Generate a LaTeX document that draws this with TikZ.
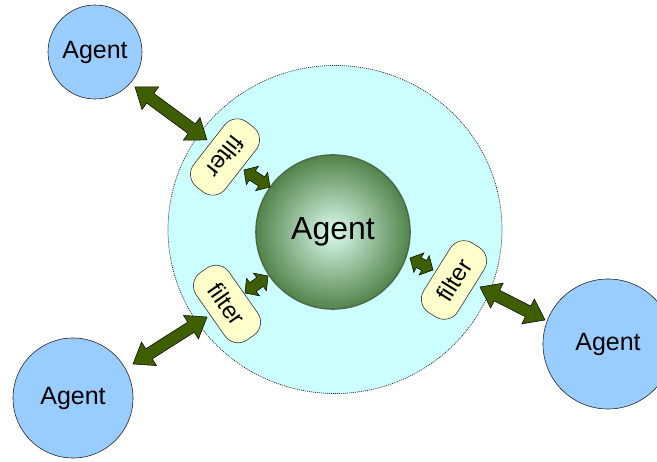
\documentclass[tikz,border=0pt]{standalone}
\usepackage{fontspec}
\setmainfont{Liberation Sans}
\usetikzlibrary{calc,shapes.geometric}
\definecolor{envcyan}{HTML}{CCFFFF}
\definecolor{agentblue}{HTML}{99CCFF}
\definecolor{filteryellow}{HTML}{FFFFCC}
\definecolor{arrowgreen}{RGB}{62,94,0}
\definecolor{coreinner}{HTML}{DDFBEF}
\definecolor{coreouter}{HTML}{52844A}
\definecolor{coreborder}{HTML}{4F6B4A}
\tikzset{
  envnode/.style={ellipse, draw=black!85, line width=0.7pt, dash pattern=on 1pt off 1pt, fill=envcyan, minimum width=334pt, minimum height=328pt, inner sep=0pt},
  agentnode/.style={circle, draw=black!85, line width=0.6pt, fill=agentblue, inner sep=0pt, font=\fontsize{25}{30}\selectfont},
  corenode/.style={circle, draw=coreborder, line width=1.6pt, inner color=coreinner, outer color=coreouter, minimum size=154pt, inner sep=0pt, font=\fontsize{32}{38}\selectfont},
  filternode/.style={rectangle, rounded corners=16pt, draw=black!80, line width=0.6pt, fill=filteryellow, minimum width=82pt, minimum height=40pt, inner sep=0pt, font=\fontsize{24}{28}\selectfont},
  arrowshape/.style={fill=arrowgreen, draw=black, line width=0.5pt, line join=miter}
}
% double-headed block arrow between two named points
\newcommand\blockarrow[5]{%
  \draw[arrowshape] let \p1=(#1), \p2=(#2), \n1={atan2(\y2-\y1,\x2-\x1)} in
    (\p1)
    -- ($(\p1)+({\n1}:#3)+({\n1+90}:#4)$)
    -- ($(\p1)+({\n1}:#3)+({\n1+90}:#5)$)
    -- ($(\p2)+({\n1+180}:#3)+({\n1+90}:#5)$)
    -- ($(\p2)+({\n1+180}:#3)+({\n1+90}:#4)$)
    -- (\p2)
    -- ($(\p2)+({\n1+180}:#3)+({\n1-90}:#4)$)
    -- ($(\p2)+({\n1+180}:#3)+({\n1-90}:#5)$)
    -- ($(\p1)+({\n1}:#3)+({\n1-90}:#5)$)
    -- ($(\p1)+({\n1}:#3)+({\n1-90}:#4)$)
    -- cycle;}
\begin{document}
\begin{tikzpicture}[x=1pt, y=-1pt]
\useasboundingbox (0,0) rectangle (657,462);
% environment
\node[envnode] (env) at (335,229.5) {};
% core agent
\node[corenode] (core) at (333,232) {Agent};
% filters
\node[filternode, rotate=232] (filterTL) at (225,157) {filter};
\node[filternode, rotate=-55] (filterBL) at (227,304) {filter};
\node[filternode, rotate=58] (filterR) at (454,280) {filter};
% outer agents
\node[agentnode, minimum size=94pt] (agentTL) at (95,52) {Agent};
\node[agentnode, minimum size=120pt] (agentBL) at (73,398) {Agent};
\node[agentnode, minimum size=130pt] (agentR) at (608,344) {Agent};
% arrow end points
\coordinate (tlA) at (135,87);   \coordinate (tlB) at (207,140);
\coordinate (tlC) at (244,170);  \coordinate (tlD) at (270,187);
\coordinate (blA) at (133,364);  \coordinate (blB) at (207,317);
\coordinate (blC) at (245,293);  \coordinate (blD) at (268,276);
\coordinate (rC) at (410,258);   \coordinate (rD) at (433,270);
\coordinate (rA) at (480,287);   \coordinate (rB) at (545,320);
% arrows
\blockarrow{tlA}{tlB}{19pt}{14pt}{6pt}
\blockarrow{tlC}{tlD}{10pt}{11pt}{5.5pt}
\blockarrow{blA}{blB}{19pt}{14pt}{6pt}
\blockarrow{blC}{blD}{10pt}{11pt}{5.5pt}
\blockarrow{rC}{rD}{10pt}{11pt}{5.5pt}
\blockarrow{rA}{rB}{19pt}{14pt}{6pt}
\end{tikzpicture}
\end{document}
